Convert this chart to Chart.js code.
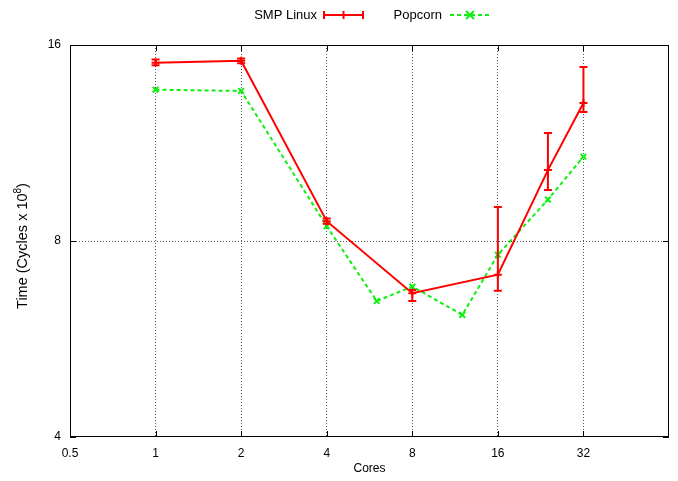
<!DOCTYPE html>
<html>
<head>
<meta charset="utf-8">
<script src="https://cdn.jsdelivr.net/npm/chart.js@4"></script>
<style>
  body { margin: 0; background: #fff; }
  canvas { display: block; }
</style>
</head>
<body>
<canvas id="c" width="678" height="481"></canvas>
<script>
// values (cycles x 10^8)
const smpCores = [1, 2, 4, 8, 16, 24, 32];
const smpTime = [15.03, 15.13, 8.58, 6.65, 7.10, 10.28, 13.03];
const smpLow = [14.9, 15.0, 8.50, 6.47, 6.71, 9.58, 12.63];
const smpHigh = [15.2, 15.25, 8.66, 6.73, 9.02, 11.72, 14.8];

const popCores = [1, 2, 4, 6, 8, 12, 16, 24, 32];
const popTime = [13.66, 13.6, 8.43, 6.47, 6.81, 6.16, 7.62, 9.26, 10.78];

const xTicks = [0.5, 1, 2, 4, 8, 16, 32];
const yTicks = [4, 8, 16];

const RED = '#ff0000';
const GREEN = '#11ee11';
const GRID = '#555';
const FONT = '"Liberation Sans", Arial, sans-serif';

const pts = (xs, ys) => xs.map((x, i) => ({ x: x, y: ys[i] }));

// box, inward ticks, error bars, legend and axis titles
const gnuplotLook = {
    id: 'gnuplotLook',
    afterDatasetsDraw(chart) {
        const ctx = chart.ctx;
        const a = chart.chartArea;
        const xs = chart.scales.x, ys = chart.scales.y;
        ctx.save();

        // frame
        ctx.strokeStyle = '#000';
        ctx.lineWidth = 1;
        ctx.strokeRect(a.left + 0.5, a.top + 0.5, a.right - a.left - 1, a.bottom - a.top - 1);

        // inward tick marks
        ctx.beginPath();
        xTicks.forEach(v => {
            const px = Math.round(xs.getPixelForValue(v)) + 0.5;
            ctx.moveTo(px, a.bottom); ctx.lineTo(px, a.bottom - 6);
            ctx.moveTo(px, a.top); ctx.lineTo(px, a.top + 6);
        });
        yTicks.forEach(v => {
            const py = Math.round(ys.getPixelForValue(v)) + 0.5;
            ctx.moveTo(a.left, py); ctx.lineTo(a.left + 6, py);
            ctx.moveTo(a.right, py); ctx.lineTo(a.right - 6, py);
        });
        ctx.stroke();

        // error bars for SMP Linux
        ctx.strokeStyle = RED;
        ctx.lineWidth = 2;
        ctx.beginPath();
        smpCores.forEach((c, i) => {
            const px = xs.getPixelForValue(c);
            const lo = ys.getPixelForValue(smpLow[i]);
            const hi = ys.getPixelForValue(smpHigh[i]);
            ctx.moveTo(px, lo); ctx.lineTo(px, hi);
            ctx.moveTo(px - 4, lo); ctx.lineTo(px + 4, lo);
            ctx.moveTo(px - 4, hi); ctx.lineTo(px + 4, hi);
        });
        ctx.stroke();

        // legend
        ctx.font = '13px ' + FONT;
        ctx.fillStyle = '#000';
        ctx.textBaseline = 'middle';
        ctx.textAlign = 'right';
        ctx.fillText('SMP Linux', 317, 15);
        ctx.fillText('Popcorn', 442, 15);

        ctx.strokeStyle = RED;
        ctx.lineWidth = 2;
        ctx.beginPath();
        ctx.moveTo(324, 15); ctx.lineTo(363, 15);
        ctx.moveTo(324, 11); ctx.lineTo(324, 19);
        ctx.moveTo(363, 11); ctx.lineTo(363, 19);
        ctx.moveTo(343.5, 11); ctx.lineTo(343.5, 19);
        ctx.stroke();

        ctx.strokeStyle = GREEN;
        ctx.setLineDash([4, 3]);
        ctx.beginPath();
        ctx.moveTo(450, 15); ctx.lineTo(489, 15);
        ctx.stroke();
        ctx.setLineDash([]);
        ctx.beginPath();
        ctx.moveTo(466, 11); ctx.lineTo(474, 19);
        ctx.moveTo(474, 11); ctx.lineTo(466, 19);
        ctx.stroke();

        // axis titles
        ctx.fillStyle = '#000';
        ctx.textAlign = 'center';
        ctx.font = '12px ' + FONT;
        ctx.fillText('Cores', (a.left + a.right) / 2, 469);

        ctx.translate(27, 246);
        ctx.rotate(-Math.PI / 2);
        ctx.textBaseline = 'alphabetic';
        const big = '14.5px ' + FONT, small = '10px ' + FONT;
        ctx.font = big;
        const main = 'Time (Cycles x 10';
        const wMain = ctx.measureText(main).width;
        const wEnd = ctx.measureText(')').width;
        ctx.font = small;
        const wSup = ctx.measureText('8').width;
        const x0 = -(wMain + wSup + wEnd) / 2;
        ctx.textAlign = 'left';
        ctx.font = big;
        ctx.fillText(main, x0, 0);
        ctx.fillText(')', x0 + wMain + wSup, 0);
        ctx.font = small;
        ctx.fillText('8', x0 + wMain, -6);
        ctx.restore();
    }
};

new Chart(document.getElementById('c'), {
    type: 'scatter',
    data: {
        datasets: [{
            label: 'SMP Linux',
            data: pts(smpCores, smpTime),
            showLine: true,
            borderColor: RED,
            backgroundColor: RED,
            borderWidth: 2,
            pointStyle: 'cross',
            pointRadius: 4,
            pointBorderWidth: 2,
            order: 1
        }, {
            label: 'Popcorn',
            data: pts(popCores, popTime),
            showLine: true,
            borderColor: GREEN,
            backgroundColor: GREEN,
            borderWidth: 2,
            borderDash: [4, 3],
            pointStyle: 'crossRot',
            pointRadius: 4,
            pointBorderWidth: 2,
            order: 2
        }]
    },
    options: {
        responsive: false,
        animation: false,
        layout: { padding: { top: 45, right: 9, left: 0, bottom: 0 } },
        plugins: { legend: { display: false }, tooltip: { enabled: false } },
        scales: {
            x: {
                type: 'logarithmic',
                min: 0.5,
                max: 64,
                afterBuildTicks: s => { s.ticks = xTicks.map(v => ({ value: v })); },
                afterFit: s => { s.height = 44; },
                border: { display: false, dash: [1, 2] },
                grid: {
                    drawTicks: false,
                    color: c => (c.tick && c.tick.value === 0.5) ? 'rgba(0,0,0,0)' : GRID,
                    lineWidth: 1
                },
                ticks: {
                    padding: 9,
                    color: '#000',
                    font: { family: FONT, size: 12 },
                    maxRotation: 0,
                    autoSkip: false,
                    callback: v => String(v)
                }
            },
            y: {
                type: 'logarithmic',
                min: 4,
                max: 16,
                afterBuildTicks: s => { s.ticks = yTicks.map(v => ({ value: v })); },
                afterFit: s => { s.width = 70; },
                border: { display: false, dash: [1, 2] },
                grid: {
                    drawTicks: false,
                    color: c => (c.tick && c.tick.value === 8) ? GRID : 'rgba(0,0,0,0)',
                    lineWidth: 1
                },
                ticks: {
                    padding: 9,
                    color: '#000',
                    font: { family: FONT, size: 12 },
                    autoSkip: false,
                    callback: v => String(v)
                }
            }
        }
    },
    plugins: [gnuplotLook]
});
</script>
</body>
</html>
